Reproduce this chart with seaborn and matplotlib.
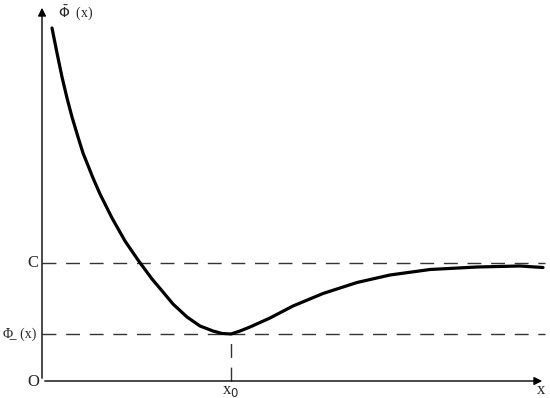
import numpy as np
import matplotlib
matplotlib.use("Agg")
import matplotlib.pyplot as plt
import seaborn as sns
import pandas as pd

# === Curve points (x along axis, y above axis) ===
curve_x = [10, 15, 20, 25, 30, 36, 41, 51, 58, 70, 83, 96, 110, 121, 131, 145, 158,
           171, 180, 189, 198, 208, 228, 251, 281, 315, 348, 388, 435, 478, 501]
curve_y = [353, 328, 304, 283, 264, 244, 228, 203, 187, 163, 140, 121, 102, 89, 77, 64, 55,
           50, 47.5, 47, 50, 54, 63, 75, 87.5, 98.5, 106, 111.5, 114, 115, 113.5]

level_c = 118      # horizontal asymptote C
level_min = 47     # minimum value
x_min = 189        # position of the minimum x0
x_end = 503        # length of the x axis
y_end = 376        # length of the y axis

df = pd.DataFrame({"x": curve_x, "y": curve_y})

sns.set_style("white")
plt.rcParams["font.family"] = ["Liberation Serif", "DejaVu Serif"]

fig = plt.figure(figsize=(5.5, 3.98), dpi=100)
ax = fig.add_axes([0, 0, 1, 1])
ax.set_xlim(-42, 508)
ax.set_ylim(-17, 381)
ax.axis("off")

# === Axes with arrows ===
ax.annotate("", xy=(x_end, 0), xytext=(0, 0),
            arrowprops=dict(arrowstyle="-|>", color="black", lw=1, mutation_scale=12))
ax.annotate("", xy=(0, y_end), xytext=(0, 0),
            arrowprops=dict(arrowstyle="-|>", color="black", lw=1, mutation_scale=12))

# === Dashed guide lines ===
dash = (0, (10, 7))
ax.plot([0, x_end], [level_c, level_c], color="#333333", lw=1, linestyle=dash)
ax.plot([0, x_end], [level_min, level_min], color="#333333", lw=1, linestyle=dash)
ax.plot([x_min, x_min], [0, level_min], color="#333333", lw=1, linestyle=dash)

# === Curve ===
sns.lineplot(data=df, x="x", y="y", ax=ax, color="black", linewidth=2.3, sort=False,
             solid_capstyle="round", solid_joinstyle="round")
ax.set_xlabel("")
ax.set_ylabel("")

# === Labels ===
fs = 12
ax.text(-9, level_c, "C", ha="center", va="center", fontsize=fs)
ax.text(-9, -1, "O", ha="center", va="center", fontsize=fs)
ax.text(-6, level_min, "\u03a6\u0332  (x)", ha="right", va="center", fontsize=10)
ax.text(16, 368, r"$\bar{\Phi}$  (x)", ha="left", va="center", fontsize=10)
ax.text(x_min, -10, r"x$_0$", ha="center", va="center", fontsize=fs)
ax.text(x_end - 4, -9, "x", ha="center", va="center", fontsize=fs)

fig.savefig("out.png", dpi=100)
